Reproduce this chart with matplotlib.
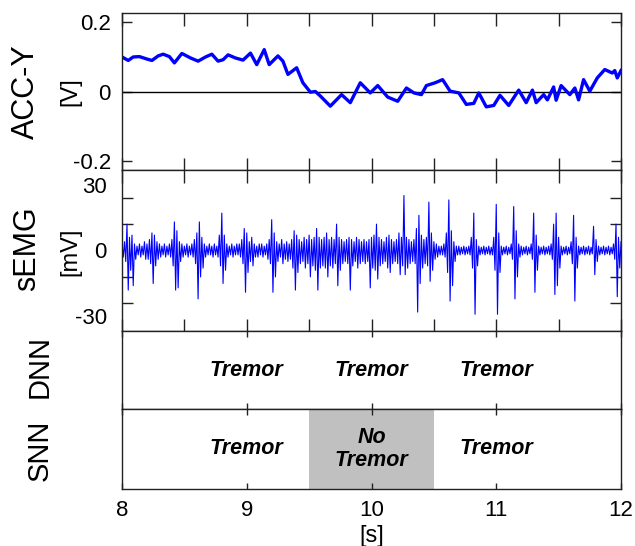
import numpy as np
import matplotlib
matplotlib.use("Agg")
import matplotlib.pyplot as plt

plt.rcParams['font.family'] = ['Liberation Sans', 'DejaVu Sans']

# ACC-Y trace [V]
acc_t = [8.00, 8.05, 8.09, 8.14, 8.20, 8.24, 8.29, 8.33, 8.38, 8.42,
         8.48, 8.55, 8.61, 8.67, 8.72, 8.77, 8.81, 8.85, 8.91, 8.97,
         9.03, 9.08, 9.14, 9.18, 9.25, 9.29, 9.33, 9.40, 9.45, 9.51,
         9.55, 9.59, 9.67, 9.76, 9.83, 9.91, 9.99, 10.05, 10.13, 10.21,
         10.28, 10.34, 10.40, 10.44, 10.51, 10.57, 10.63, 10.70, 10.76, 10.82,
         10.86, 10.92, 10.98, 11.03, 11.10, 11.18, 11.24, 11.29, 11.32, 11.38,
         11.41, 11.46, 11.48, 11.52, 11.59, 11.63, 11.66, 11.70, 11.75, 11.81,
         11.87, 11.93, 11.95, 11.97, 12.00]
acc_v = [0.099, 0.089, 0.099, 0.100, 0.093, 0.089, 0.102, 0.107, 0.100, 0.082,
         0.109, 0.096, 0.087, 0.099, 0.107, 0.087, 0.091, 0.105, 0.096, 0.090,
         0.110, 0.077, 0.120, 0.077, 0.102, 0.087, 0.049, 0.068, 0.025, -0.002,
         0.000, -0.013, -0.042, -0.009, -0.032, 0.025, -0.004, 0.017, -0.016, -0.028,
         0.010, -0.004, -0.009, 0.017, 0.025, 0.034, 0.001, -0.004, -0.037, -0.034,
         -0.004, -0.044, -0.040, -0.011, -0.040, 0.004, -0.032, 0.004, -0.032, -0.009,
         -0.024, 0.013, -0.025, 0.017, -0.009, 0.010, -0.024, 0.034, 0.001, 0.039,
         0.063, 0.053, 0.060, 0.039, 0.060]

# sEMG [mV]: upper and lower swing every 0.02 s from 8.00 s
emg_t0 = 8.0
emg_step = 0.02
emg_hi = [3, 4, 12, 6, 7, 3, 2, 3, 2, 4,
          3, 5, 8, 7, 4, 3, 2, 3, 2, 3,
          5, 13, 9, 4, 3, 2, 3, 2, 3, 5,
          8, 13, 6, 3, 2, 3, 2, 3, 2, 7,
          17, 7, 3, 2, 3, 2, 3, 3, 5, 10,
          8, 4, 6, 3, 2, 3, 3, 2, 3, 5,
          14, 8, 4, 3, 5, 3, 4, 3, 5, 9,
          7, 5, 4, 6, 5, 7, 5, 6, 10, 6,
          5, 6, 8, 5, 6, 5, 12, 6, 5, 4,
          5, 6, 5, 4, 6, 5, 4, 5, 4, 5,
          6, 7, 12, 6, 5, 4, 6, 7, 5, 4,
          5, 8, 6, 25, 6, 5, 4, 5, 10, 16,
          7, 5, 6, 22, 8, 4, 3, 2, 2, 3,
          8, 23, 9, 4, 2, 2, 1.5, 2, 1.5, 2,
          6, 17, 5, 2, 1.5, 2, 1.5, 2, 1.5, 6,
          21, 8, 2, 1.5, 2, 1.5, 3, 20, 9, 3,
          2, 1.5, 2, 1.5, 3, 17, 7, 2, 1.5, 2,
          1.5, 2, 3, 12, 17, 6, 2, 1.5, 2, 1.5,
          4, 16, 6, 2, 1.5, 2, 1.5, 2, 1.5, 11,
          5, 2, 1.5, 2, 1.5, 2, 1.5, 3, 12, 6,
          4]
emg_lo = [-3, -5, -18, -9, -16, -4, -2, -3, -2, -4,
          -4, -6, -15, -7, -4, -3, -2, -3, -2, -3,
          -7, -18, -17, -5, -3, -2, -3, -2, -3, -6,
          -22, -12, -8, -3, -2, -2, -3, -2, -3, -7,
          -15, -9, -3, -2, -3, -2, -2, -3, -6, -19,
          -10, -5, -7, -3, -3, -2, -3, -2, -4, -6,
          -19, -12, -5, -3, -6, -4, -5, -4, -8, -18,
          -10, -6, -5, -8, -6, -12, -7, -9, -18, -8,
          -7, -8, -12, -7, -8, -6, -16, -9, -6, -5,
          -6, -18, -7, -5, -8, -6, -5, -6, -5, -17,
          -8, -9, -13, -7, -6, -5, -8, -10, -6, -5,
          -6, -11, -7, -11, -8, -6, -5, -6, -28, -15,
          -8, -6, -7, -14, -9, -4, -3, -2, -2, -3,
          -10, -23, -16, -5, -2, -2, -1.5, -2, -1.5, -2,
          -8, -29, -7, -2, -1.5, -2, -1.5, -2, -2, -9,
          -29, -10, -2, -1.5, -2, -1.5, -4, -22, -12, -3,
          -2, -1.5, -2, -1.5, -4, -19, -9, -2, -1.5, -2,
          -1.5, -2, -4, -20, -16, -8, -2, -1.5, -2, -1.5,
          -6, -23, -8, -2, -1.5, -2, -1.5, -2, -1.5, -11,
          -5, -2, -1.5, -2, -1.5, -2, -1.5, -4, -21, -8,
          -5]

# classifier outputs
seg_centers = [9, 10, 11]
dnn_labels = ["Tremor", "Tremor", "Tremor"]
snn_labels = ["Tremor", "No\nTremor", "Tremor"]
snn_no_tremor = [(9.5, 10.5)]

W, H = 635, 546
fig = plt.figure(figsize=(W / 100, H / 100), dpi=100)

def box(top, bottom):
    return [122 / W, 1 - bottom / H, 499 / W, (bottom - top) / H]

ax1 = fig.add_axes(box(13, 170))
ax2 = fig.add_axes(box(170, 331))
ax3 = fig.add_axes(box(331, 409))
ax4 = fig.add_axes(box(409, 489))

blue = (0, 0, 1)
for ax in (ax1, ax2, ax3, ax4):
    ax.set_xlim(8, 12)
    for s in ax.spines.values():
        s.set_linewidth(1.0)
        s.set_color('#222222')
    ax.tick_params(direction='in', top=True, right=True, labelsize=16,
                   width=1.0, color='#222222')
    ax.tick_params(axis='y', pad=8)

# ACC-Y
ax1.axhline(0, color='black', lw=1.0)
ax1.plot(acc_t, acc_v, color=blue, lw=2.4, solid_joinstyle='round')
ax1.set_ylim(-0.225, 0.225)
ax1.set_yticks([-0.2, 0, 0.2])
ax1.set_yticklabels(['-0.2', '0', '0.2'])
ax1.set_xticks(np.arange(8, 12.01, 0.5))
ax1.tick_params(axis='x', length=9, labelbottom=False)
ax1.tick_params(axis='y', length=7)

# sEMG
n = len(emg_hi)
t_hi = emg_t0 + emg_step * np.arange(n)
t_all = np.empty(2 * n)
v_all = np.empty(2 * n)
t_all[0::2] = t_hi
t_all[1::2] = t_hi + emg_step / 2
v_all[0::2] = emg_hi
v_all[1::2] = emg_lo
keep = t_all <= 12
ax2.plot(t_all[keep], v_all[keep], color=blue, lw=0.8)
ax2.set_ylim(-36.6, 36.6)
ax2.set_yticks([-30, 0, 30])
ax2.set_yticklabels(['-30', '0', '30'])
ax2.tick_params(axis='y', which='major', length=0, pad=11)
ax2.set_yticks([-24, -12, 12, 24], minor=True)
ax2.tick_params(axis='y', which='minor', direction='in', left=True, right=True,
                length=8, width=1.0, color='#222222')
ax2.set_xticks(np.arange(8, 12.01, 0.5))
ax2.tick_params(axis='x', length=9, labelbottom=False)

# DNN / SNN
for ax in (ax3, ax4):
    ax.set_ylim(0, 1)
    ax.set_yticks([])
    ax.set_xticks([8, 9, 10, 11, 12])
    ax.tick_params(axis='x', length=4)
ax3.tick_params(axis='x', labelbottom=False)
ax4.set_xticklabels(['8', '9', '10', '11', '12'])
ax4.tick_params(axis='x', pad=8)

for x0, x1 in snn_no_tremor:
    ax4.axvspan(x0, x1, color='#c0c0c0', lw=0)

for xc, lab in zip(seg_centers, dnn_labels):
    ax3.text(xc, 0.5, lab, ha='center', va='center', fontsize=15.5,
             fontweight='bold', fontstyle='italic')
for xc, lab in zip(seg_centers, snn_labels):
    ax4.text(xc, 0.5, lab, ha='center', va='center', fontsize=15.5,
             fontweight='bold', fontstyle='italic', linespacing=1.1)

ax4.set_xlabel('[s]', fontsize=17, labelpad=3)

# row labels
fig.text(26 / W, 1 - 92 / H, 'ACC-Y', rotation=90, ha='center', va='center', fontsize=22)
fig.text(70 / W, 1 - 92 / H, '[V]', rotation=90, ha='center', va='center', fontsize=17)
fig.text(27 / W, 1 - 249 / H, 'sEMG', rotation=90, ha='center', va='center', fontsize=22)
fig.text(70 / W, 1 - 252 / H, '[mV]', rotation=90, ha='center', va='center', fontsize=17)
fig.text(40 / W, 1 - 367 / H, 'DNN', rotation=90, ha='center', va='center', fontsize=21)
fig.text(40 / W, 1 - 450 / H, 'SNN', rotation=90, ha='center', va='center', fontsize=21)

fig.savefig('out.png', dpi=100)
